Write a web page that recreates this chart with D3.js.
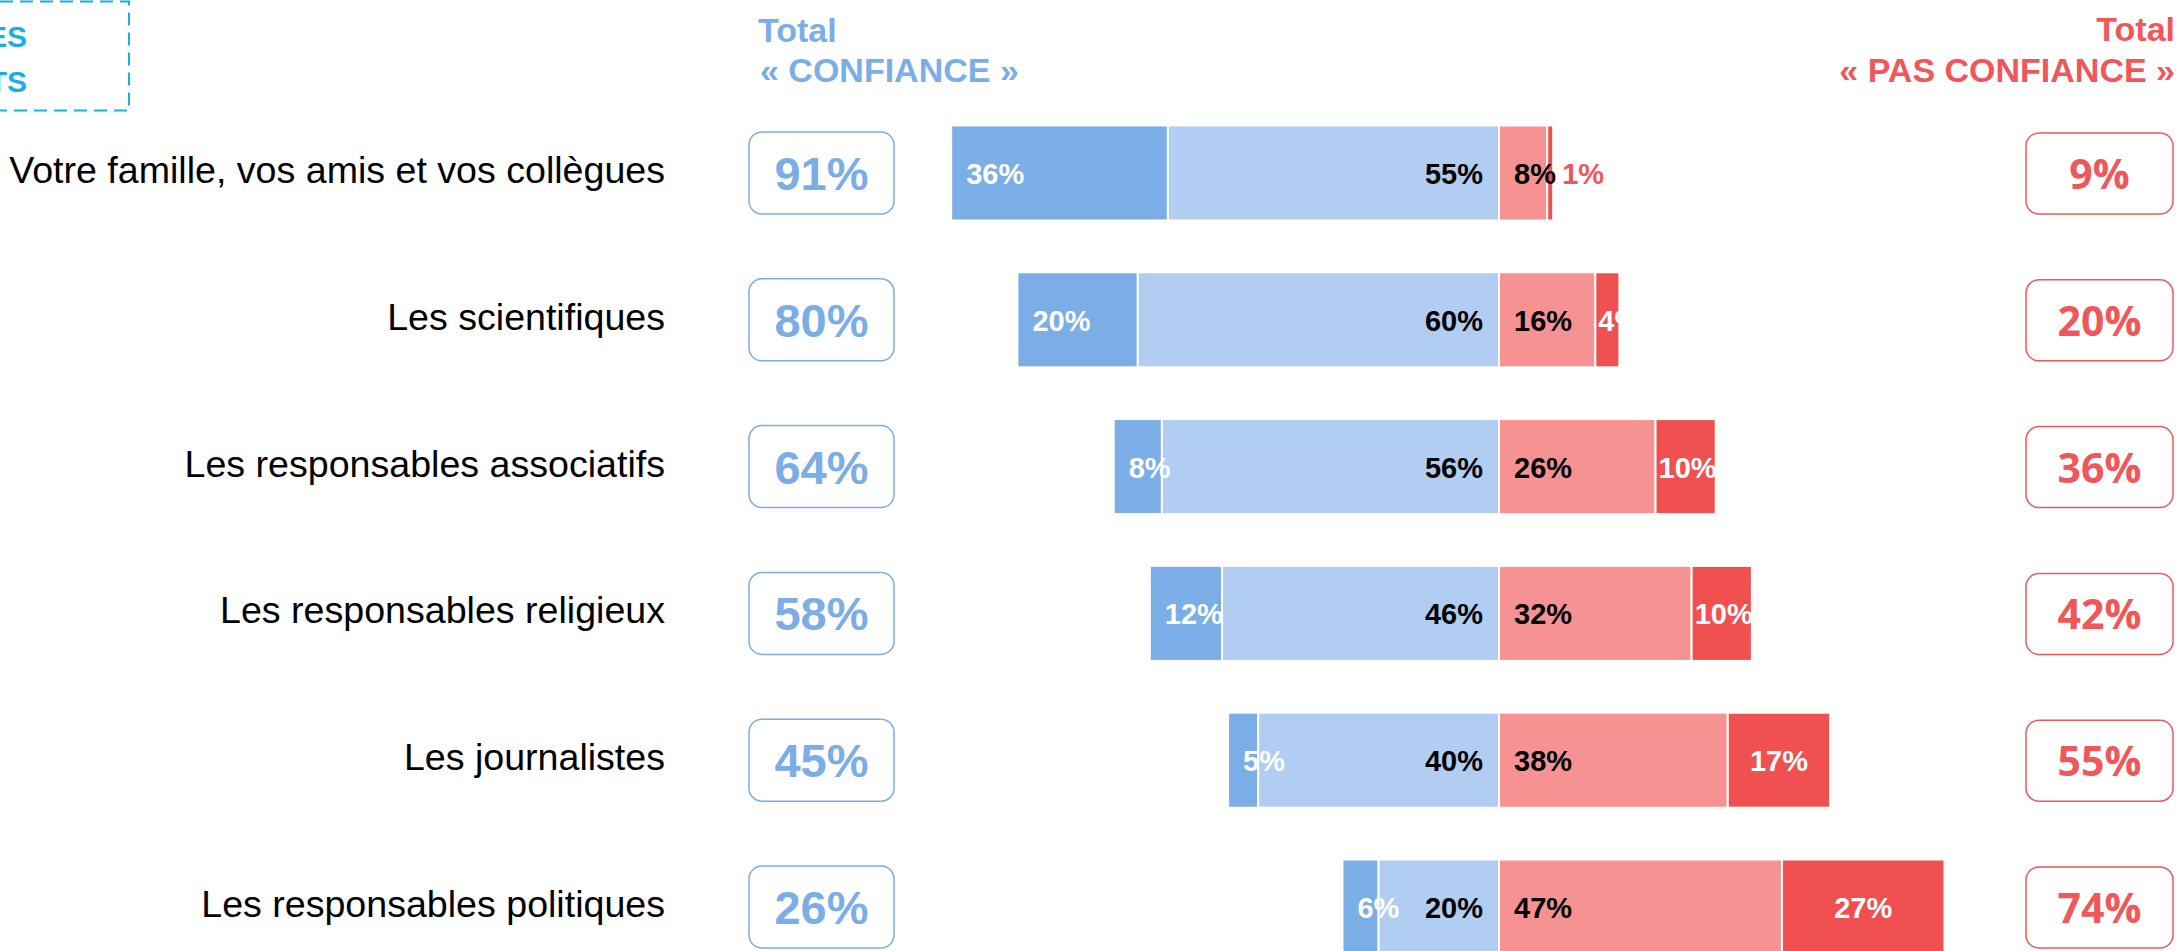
<!DOCTYPE html>
<html lang="fr">
<head>
<meta charset="UTF-8">
<title>Confiance</title>
<script src="https://d3js.org/d3.v7.min.js"></script>
<style>
  body { margin: 0; background: #fff; overflow: hidden; }
  svg { display: block; font-family: "Liberation Sans", Arial, sans-serif; }
  .cat { font-size: 37.6px; fill: #000; }
  .seg-label { font-size: 29px; font-weight: bold; }
  .head { font-size: 34px; font-weight: bold; }
</style>
</head>
<body>
<svg id="chart"></svg>
<script>
// data
const categories = [
  "Votre famille, vos amis et vos collègues",
  "Les scientifiques",
  "Les responsables associatifs",
  "Les responsables religieux",
  "Les journalistes",
  "Les responsables politiques"
];
const tresConfiance      = [36, 20, 8, 12, 5, 6];
const plutotConfiance    = [55, 60, 56, 46, 40, 20];
const plutotPasConfiance = [8, 16, 26, 32, 38, 47];
const pasDuToutConfiance = [1, 4, 10, 10, 17, 27];
const totalConfiance     = [91, 80, 64, 58, 45, 26];
const totalPasConfiance  = [9, 20, 36, 42, 55, 74];

const W = 2177, H = 951;
const blueDark = "#7badE6", blueLight = "#b1cdf1";
const pink = "#f69292", red = "#f05050";
const blueText = "#7badE6", redText = "#f0575a", cyan = "#1aaee8";

const svg = d3.select("#chart").attr("width", W).attr("height", H);

// scales
const y = d3.scalePoint().domain(categories).range([173, 907]);
const x = d3.scaleLinear().domain([-100, 100]).range([897, 2101]);
const barH = 95;

// stacked segments per row
const rows = categories.map((c, i) => ({
  cat: c,
  segs: [
    { v: tresConfiance[i], x0: -(tresConfiance[i] + plutotConfiance[i]), x1: -plutotConfiance[i], fill: blueDark, kind: "vd" },
    { v: plutotConfiance[i], x0: -plutotConfiance[i], x1: 0, fill: blueLight, kind: "vl" },
    { v: plutotPasConfiance[i], x0: 0, x1: plutotPasConfiance[i], fill: pink, kind: "pl" },
    { v: pasDuToutConfiance[i], x0: plutotPasConfiance[i], x1: plutotPasConfiance[i] + pasDuToutConfiance[i], fill: red, kind: "pd" }
  ],
  tc: totalConfiance[i],
  tp: totalPasConfiance[i]
}));

const row = svg.selectAll("g.row").data(rows).enter().append("g")
  .attr("class", "row")
  .attr("transform", d => `translate(0,${y(d.cat)})`);

// category labels
row.append("text")
  .attr("class", "cat")
  .attr("x", 665).attr("y", 10)
  .attr("text-anchor", "end")
  .text(d => d.cat);

// bars
row.selectAll("rect.seg").data(d => d.segs).enter().append("rect")
  .attr("class", "seg")
  .attr("x", d => x(d.x0))
  .attr("width", d => x(d.x1) - x(d.x0))
  .attr("y", -barH / 2).attr("height", barH)
  .attr("fill", d => d.fill)
  .attr("stroke", "#fff").attr("stroke-width", 2);

// segment labels
row.selectAll("text.seg-label").data(d => d.segs).enter().append("text")
  .attr("class", "seg-label")
  .attr("y", 11)
  .text(d => d.v + "%")
  .each(function(d) {
    const t = d3.select(this);
    const w = this.getComputedTextLength();
    if (d.kind === "vd") {
      t.attr("x", x(d.x0) + 15).attr("fill", "#fff");
    } else if (d.kind === "vl") {
      t.attr("x", x(0) - 16).attr("text-anchor", "end").attr("fill", "#000");
    } else if (d.kind === "pl") {
      t.attr("x", x(0) + 15).attr("fill", "#000");
    } else {
      if (d.v <= 2) {
        // too thin: label outside in red
        t.attr("x", x(d.x1) + 9).attr("fill", redText);
      } else {
        const cx = (x(d.x0) + x(d.x1)) / 2;
        t.attr("x", Math.max(x(d.x0) + 3, cx - w / 2)).attr("fill", "#fff");
      }
    }
  });

// total boxes, left (confiance)
row.append("rect")
  .attr("x", 749).attr("y", -41).attr("width", 145).attr("height", 82)
  .attr("rx", 13).attr("fill", "#fff")
  .attr("stroke", blueText).attr("stroke-width", 1.5);
row.append("text")
  .attr("x", 821.5).attr("y", 17)
  .attr("text-anchor", "middle")
  .attr("font-size", 47).attr("font-weight", "bold")
  .attr("fill", blueText)
  .text(d => d.tc + "%");

// total boxes, right (pas confiance)
row.append("rect")
  .attr("x", 2026).attr("y", -40).attr("width", 147).attr("height", 81)
  .attr("rx", 13).attr("fill", "#fff")
  .attr("stroke", redText).attr("stroke-width", 1.5);
row.append("text")
  .attr("x", 2099.5).attr("y", 16)
  .attr("text-anchor", "middle")
  .attr("font-family", "'Open Sans', sans-serif")
  .attr("font-size", 41).attr("font-weight", "bold")
  .attr("fill", redText)
  .text(d => d.tp + "%");

// column headers
const hl = svg.append("text").attr("class", "head").attr("fill", blueText);
hl.append("tspan").attr("x", 758).attr("y", 42).text("Total");
hl.append("tspan").attr("x", 760).attr("y", 82).text("« CONFIANCE »");

const hr = svg.append("text").attr("class", "head").attr("fill", redText).attr("text-anchor", "end");
hr.append("tspan").attr("x", 2175).attr("y", 41).text("Total");
hr.append("tspan").attr("x", 2175).attr("y", 82).text("« PAS CONFIANCE »");

// legend box, cut off at the top-left corner as in the reference
svg.append("rect")
  .attr("x", -20).attr("y", 1.5).attr("width", 149).attr("height", 109)
  .attr("fill", "none").attr("stroke", cyan).attr("stroke-width", 2)
  .attr("stroke-dasharray", "13,7");
const lg = svg.append("text").attr("fill", cyan).attr("font-size", 30)
  .attr("font-weight", "bold").attr("text-anchor", "end");
lg.append("tspan").attr("x", 27).attr("y", 47).text("ES");
lg.append("tspan").attr("x", 27).attr("y", 92).text("TS");
</script>
</body>
</html>
